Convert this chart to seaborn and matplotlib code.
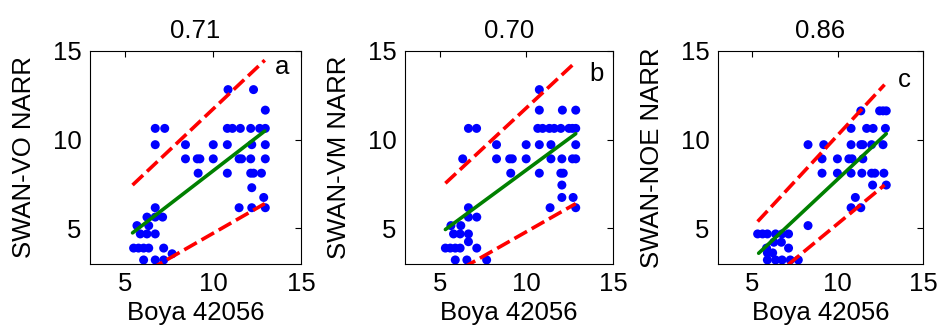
import numpy as np
import pandas as pd
import matplotlib
matplotlib.use("Agg")
import matplotlib.pyplot as plt
import seaborn as sns

# ---------------- data ----------------
titles = ["0.71", "0.70", "0.86"]
ylabels = ["SWAN-VO NARR", "SWAN-VM NARR", "SWAN-NOE NARR"]
xlabel = "Boya 42056"
letters = ["a", "b", "c"]

# panel a
a_x = [10.85, 12.3,
       12.97,
       6.71, 7.25, 10.81, 11.1, 11.55, 12.14, 12.65, 12.97,
       6.71, 8.43, 10.01, 10.81, 12.2, 12.97,
       8.43, 9.1, 9.25, 10.01, 11.48, 11.62, 12.14, 12.97,
       9.15, 10.81, 12.14, 12.3, 12.75,
       12.2,
       12.88,
       6.71, 11.48, 12.2, 12.97,
       6.24, 6.71, 7.13,
       5.67, 6.34,
       5.86, 6.24, 6.71,
       5.48, 5.76, 6.05, 6.34, 7.19,
       7.67,
       6.05, 6.71, 7.19]
a_y = [12.82, 12.82,
       11.66,
       10.63, 10.63, 10.63, 10.63, 10.63, 10.63, 10.63, 10.63,
       9.71, 9.71, 9.71, 9.71, 9.71, 9.71,
       8.91, 8.91, 8.91, 8.91, 8.91, 8.91, 8.91, 8.91,
       8.1, 8.1, 8.1, 8.1, 8.1,
       7.28,
       6.73,
       6.15, 6.15, 6.15, 6.15,
       5.62, 5.62, 5.62,
       5.14, 5.14,
       4.67, 4.67, 4.67,
       3.87, 3.87, 3.87, 3.87, 3.87,
       3.55,
       3.2, 3.2, 3.2]

# panel b
b_x = [10.75,
       10.75, 12.08, 12.85,
       6.66, 7.13, 10.66, 10.94, 11.33, 11.61, 11.99, 12.46, 12.66, 12.85,
       8.28, 9.99, 10.75, 11.42, 12.85,
       6.33, 8.28, 9.04, 9.19, 9.99, 11.42, 12.05, 12.66, 12.85,
       9.1, 10.75, 11.99, 12.13,
       12.05,
       12.05, 12.7,
       6.66, 11.37, 12.85,
       6.66, 7.14,
       5.65, 6.22,
       5.8, 6.18, 6.66,
       6.66,
       5.33, 5.61, 5.9, 6.18, 7.14,
       5.9, 6.57, 7.71]
b_y = [12.82,
       11.66, 11.66, 11.66,
       10.63, 10.63, 10.63, 10.63, 10.63, 10.63, 10.63, 10.63, 10.63, 10.63,
       9.71, 9.71, 9.71, 9.71, 9.71,
       8.91, 8.91, 8.91, 8.91, 8.91, 8.91, 8.91, 8.91, 8.91,
       8.1, 8.1, 8.1, 8.1,
       7.43,
       6.73, 6.73,
       6.15, 6.15, 6.15,
       5.62, 5.62,
       5.14, 5.14,
       4.67, 4.67, 4.67,
       4.23,
       3.87, 3.87, 3.87, 3.87, 3.87,
       3.2, 3.2, 3.2]

# panel c
c_x = [11.36, 12.46, 12.66, 12.85,
       10.79, 11.7, 12.08, 12.8,
       8.27, 9.19, 10.79, 11.36, 11.48, 11.99, 12.66,
       9.09, 9.99, 10.66, 10.85, 11.48,
       9.09, 9.99, 10.79, 11.42, 11.99, 12.18, 12.71,
       12.05, 12.85,
       11.04,
       10.79, 11.36,
       8.27,
       5.32, 5.61, 5.89, 6.37, 6.75, 7.13,
       6.27, 6.71,
       5.84, 7.13,
       5.89, 6.2,
       5.89, 6.37, 6.75, 7.23, 7.7]
c_y = [11.62, 11.62, 11.62, 11.62,
       10.63, 10.63, 10.63, 10.63,
       9.71, 9.71, 9.71, 9.71, 9.71, 9.71, 9.71,
       8.91, 8.91, 8.91, 8.91, 8.91,
       8.1, 8.1, 8.1, 8.1, 8.1, 8.1, 8.1,
       7.43, 7.43,
       6.73,
       6.15, 6.15,
       5.14,
       4.67, 4.67, 4.67, 4.67, 4.67, 4.67,
       4.2, 4.2,
       3.87, 3.87,
       3.6, 3.6,
       3.2, 3.2, 3.2, 3.2, 3.2]

# fitted line (green) and bounds (red dashed): endpoints
fit_x = [[5.42, 12.94], [5.33, 12.85], [5.38, 12.85]]
fit_y = [[4.73, 10.48], [4.92, 10.33], [3.58, 10.33]]
up_x = [[5.42, 12.94], [5.33, 12.85], [5.32, 12.75]]
up_y = [[7.43, 14.48], [7.53, 14.38], [5.37, 13.1]]
lo_x = [[5.42, 12.94], [5.33, 12.85], [5.32, 12.75]]
lo_y = [[2.10, 6.38], [2.19, 6.38], [1.51, 7.43]]

letter_pos = [(13.95, 14.1), (14.07, 13.7), (13.93, 13.34)]

# ---------------- style ----------------
sns.set_style("white")
plt.rcParams["font.family"] = ["Liberation Sans", "DejaVu Sans"]
plt.rcParams["font.size"] = 18.5
for key in ["text.color", "axes.labelcolor", "xtick.color", "ytick.color",
            "axes.edgecolor"]:
    plt.rcParams[key] = "black"

FS = 18.5

fig = plt.figure(figsize=(9.43, 3.33), dpi=100)
lefts = [90 / 943, 405 / 943, 718 / 943]
widths = [211 / 943, 208 / 943, 205 / 943]
bottom = (333 - 263.5) / 333
height = 212.5 / 333

xs = [a_x, b_x, c_x]
ys = [a_y, b_y, c_y]

for i in range(3):
    ax = fig.add_axes([lefts[i], bottom, widths[i], height])
    df = pd.DataFrame({"x": xs[i], "y": ys[i]})
    sns.scatterplot(data=df, x="x", y="y", ax=ax, color="#0000ff",
                    s=42, edgecolor="none", linewidth=0, zorder=2)
    sns.lineplot(x=fit_x[i], y=fit_y[i], ax=ax, color="#008000",
                 linewidth=2.6, sort=False, zorder=3)
    sns.lineplot(x=up_x[i], y=up_y[i], ax=ax, color="#ff0000",
                 linewidth=2.6, sort=False, zorder=3)
    ax.lines[-1].set_dashes((4, 1.5))
    ax.lines[-1].set_dash_capstyle("butt")
    sns.lineplot(x=lo_x[i], y=lo_y[i], ax=ax, color="#ff0000",
                 linewidth=2.6, sort=False, zorder=3)
    ax.lines[-1].set_dashes((4, 1.5))
    ax.lines[-1].set_dash_capstyle("butt")

    ax.set_xlim(3, 15)
    ax.set_ylim(3, 15)
    ax.set_xticks([5, 10, 15])
    ax.set_yticks([5, 10, 15])
    ax.tick_params(direction="in", length=4, width=0.8, top=True, right=True,
                   labelsize=FS, color="black", labelcolor="black")
    ax.tick_params(axis="x", pad=6)
    ax.tick_params(axis="y", pad=6)
    for sp in ax.spines.values():
        sp.set_color("black")
        sp.set_linewidth(0.8)
    ax.set_title(titles[i], fontsize=FS, pad=9, color="black")
    ax.set_xlabel(xlabel, fontsize=FS, labelpad=4, color="black")
    ax.set_ylabel(ylabels[i], fontsize=FS, labelpad=12, color="black")
    ax.text(letter_pos[i][0], letter_pos[i][1], letters[i], fontsize=FS,
            ha="center", va="center", color="black")

fig.savefig("out.png", dpi=100)
